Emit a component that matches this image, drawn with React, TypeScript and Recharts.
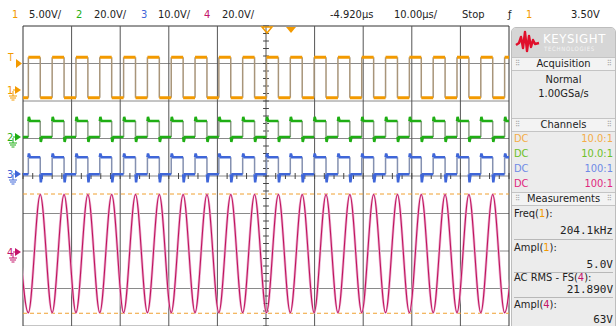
import React from 'react';
import { LineChart, Line, XAxis, YAxis, ReferenceLine } from 'recharts';

// scope screen: 10 div x 10 µs, 8 div vertical
const edgeTimes = [
  -1.35, 1.1, 3.55, 6.0, 8.45, 10.9, 13.35, 15.8, 18.25, 20.7, 23.15, 25.6, 28.05, 30.5,
  32.95, 35.4, 37.85, 40.3, 42.75, 45.2, 47.65, 50.1, 52.55, 55.0, 57.45, 59.9, 62.35,
  64.8, 67.25, 69.7, 72.15, 74.6, 77.05, 79.5, 81.95, 84.4, 86.85, 89.3, 91.75, 94.2,
  96.65, 99.1, 101.55,
];

const channelScales = [5, 20, 10, 20]; // V/div
const channelOffsets = [2.29, 1.04, 0.05, -2.07]; // div from centre

const ch1Levels = [-1.0, 4.4]; // low, high (V)
const ch2Levels = [0, 8.5];
const ch3Levels = [0, 4.5];
const ch4Levels = [-31.5, 31.5]; // trough, peak

const ch2Ring = [-2.6, 2.2];
const ch3Ring = [-2.2, 1.0];

const cursorLevels = [31.8, -31.8]; // ampl(4) cursors

const ORANGE = '#f39a00';
const GREEN = '#1fae14';
const BLUE = '#3f66d8';
const MAGENTA = '#c4146a';

const toDiv = (v: number, ch: number) => channelOffsets[ch] + v / channelScales[ch];

function squareSegments(ch: number, levels: number[], ring?: number[]) {
  const pts: { t: number; v: number | null }[] = [];
  for (let i = 0; i < edgeTimes.length - 1; i++) {
    const high = i % 2 === 1;
    const lv = high ? levels[1] : levels[0];
    const t0 = edgeTimes[i];
    const t1 = edgeTimes[i + 1];
    pts.push({ t: t0, v: toDiv(lv, ch) });
    if (ring) {
      pts.push({ t: t0 + 0.12, v: toDiv(lv + (high ? ring[1] : ring[0]), ch) });
      pts.push({ t: t0 + 0.35, v: toDiv(lv, ch) });
    }
    pts.push({ t: t1, v: toDiv(lv, ch) });
    pts.push({ t: t1, v: null });
  }
  return pts;
}

function squareEdges(ch: number, levels: number[]) {
  const pts: { t: number; v: number | null }[] = [];
  edgeTimes.forEach((t) => {
    pts.push({ t, v: toDiv(levels[0], ch) });
    pts.push({ t, v: toDiv(levels[1], ch) });
    pts.push({ t, v: null });
  });
  return pts;
}

// sine extrema: peak at falling edges, trough at rising edges
const sineData = edgeTimes.map((t, i) => ({
  t,
  v: toDiv(i % 2 === 0 ? ch4Levels[1] : ch4Levels[0], 3),
}));

const xGrid = [0, 10, 20, 30, 40, 50, 60, 70, 80, 90, 100];
const yGrid = [-4, -3, -2, -1, 0, 1, 2, 3, 4];
const minorY = Array.from({ length: 41 }, (_, i) => -4 + i * 0.2);
const minorX = Array.from({ length: 51 }, (_, i) => i * 2);

const narrow = '"Liberation Sans Narrow", "DejaVu Sans Condensed", "Arial Narrow", sans-serif';
const mono = '"DejaVu Sans Mono", "Liberation Mono", monospace';

function Header() {
  const items: [number, string, string][] = [
    [12, '1', ORANGE], [29, '5.00V/', '#222'],
    [76, '2', GREEN], [94, '20.0V/', '#222'],
    [141, '3', BLUE], [158, '10.0V/', '#222'],
    [204, '4', MAGENTA], [222, '20.0V/', '#222'],
    [330, '-4.920µs', '#222'], [394, '10.00µs/', '#222'],
    [462, 'Stop', '#222'], [508, 'ƒ', '#222'], [526, '1', ORANGE], [571, '3.50V', '#222'],
  ];
  return (
    <div style={{ position: 'absolute', left: 0, top: 0, width: 616, height: 26 }}>
      {items.map(([x, s, c], i) => (
        <span key={i} style={{ position: 'absolute', left: x, top: 9, fontSize: 11, lineHeight: '12px', color: c, fontFamily: narrow, whiteSpace: 'nowrap' }}>{s}</span>
      ))}
    </div>
  );
}

function Markers() {
  const gnd = (x: number, y: number, c: string) => (
    <g stroke={c} strokeWidth={1}>
      <line x1={x} y1={y} x2={x} y2={y + 5} />
      <line x1={x - 4} y1={y + 5} x2={x + 4} y2={y + 5} />
      <line x1={x - 3} y1={y + 7} x2={x + 3} y2={y + 7} />
      <line x1={x - 1.5} y1={y + 9} x2={x + 1.5} y2={y + 9} />
    </g>
  );
  const mk = (y: number, label: string, c: string) => (
    <g>
      <text x={7} y={y + 4} fontSize={11} fill={c} fontFamily={narrow}>{label}</text>
      <polygon points={`${15},${y - 4} ${21},${y} ${15},${y + 4}`} fill={c} />
      <line x1={13} y1={y} x2={15} y2={y} stroke={c} />
      {gnd(13, y + 1, c)}
    </g>
  );
  return (
    <svg width={616} height={326} style={{ position: 'absolute', left: 0, top: 0, pointerEvents: 'none' }}>
      <text x={8} y={61} fontSize={10} fill={ORANGE} fontFamily={narrow}>T</text>
      <polygon points="16,59 22,63.5 16,68" fill={ORANGE} />
      {mk(90, '1', ORANGE)}
      {mk(137, '2', GREEN)}
      {mk(174, '3', BLUE)}
      {mk(252, '4', MAGENTA)}
      <polygon points="262,27 272,27 267,33" fill="none" stroke={ORANGE} strokeWidth={1.5} />
      <polygon points="286,27 296,27 291,33" fill={ORANGE} />
    </svg>
  );
}

function Bar({ top, label }: { top: number; label: string }) {
  return (
    <div style={{ position: 'absolute', left: 0, top, width: 103, height: 12, background: '#f3f3f3', borderTop: '1px solid #c4c4c4', borderBottom: '1px solid #c4c4c4', fontSize: 11, lineHeight: '12px', textAlign: 'center', color: '#222', fontFamily: narrow }}>
      <span style={{ position: 'absolute', left: 3, color: '#aaa', fontSize: 8 }}>⠿</span>
      {label}
      <span style={{ position: 'absolute', right: 3, color: '#aaa', fontSize: 8 }}>⠿</span>
    </div>
  );
}

function Panel() {
  const txt = (top: number, s: React.ReactNode, align: 'left' | 'right' | 'center', font = narrow, color = '#222') => (
    <div style={{ position: 'absolute', left: 2, right: 2, top, fontSize: 11, lineHeight: '12px', textAlign: align, color, fontFamily: font, whiteSpace: 'nowrap' }}>{s}</div>
  );
  const chRow = (top: number, ratio: string, c: string) => (
    <div style={{ position: 'absolute', left: 2, right: 2, top, fontSize: 11, lineHeight: '12px', color: c, fontFamily: narrow }}>
      <span>DC</span>
      <span style={{ position: 'absolute', right: 0 }}>{ratio}</span>
    </div>
  );
  const sep = (top: number) => (
    <div style={{ position: 'absolute', left: 2, right: 2, top, height: 1, background: '#b8b8b8' }} />
  );
  return (
    <div style={{ position: 'absolute', left: 511, top: 27, width: 103, height: 310, background: '#ececec', border: '1px solid #bdbdbd', borderRadius: '5px 5px 0 0', overflow: 'hidden' }}>
      <div style={{ position: 'absolute', left: 0, top: 0, width: 103, height: 29, background: '#d6d6d6' }}>
        <svg width={103} height={29} style={{ position: 'absolute', left: 0, top: 0 }}>
          <polyline points="4,17 7,15 9,9 11,20 13,4 15,23 17,8 19,19 21,12 23,16 27,15" fill="none" stroke="#e0102c" strokeWidth={2.4} strokeLinejoin="round" />
          <text x={31} y={15} fontSize={13} fill="#fff" fontFamily={narrow} letterSpacing={0.6}>KEYSIGHT</text>
          <text x={32} y={23} fontSize={6} fill="#f4f4f4" fontFamily={narrow} letterSpacing={0.7}>TECHNOLOGIES</text>
        </svg>
      </div>
      <Bar top={29} label="Acquisition" />
      {txt(46, 'Normal', 'center')}
      {txt(60, '1.00GSa/s', 'center')}
      <Bar top={90} label="Channels" />
      {chRow(105, '10.0:1', '#f4ad48')}
      {chRow(120, '10.0:1', '#6cc028')}
      {chRow(135, '100:1', '#6f8ae6')}
      {chRow(150, '100:1', '#e0287e')}
      <Bar top={164} label="Measurements" />
      {txt(180, <>Freq(<span style={{ color: ORANGE }}>1</span>):</>, 'left')}
      {txt(197, '204.1kHz', 'right', mono)}
      {sep(211)}
      {txt(214, <>Ampl(<span style={{ color: ORANGE }}>1</span>):</>, 'left')}
      {txt(231, '5.0V', 'right', mono)}
      {sep(244)}
      {txt(244, <>AC RMS - FS(<span style={{ color: MAGENTA }}>4</span>):</>, 'left')}
      {txt(256, '21.890V', 'right', mono)}
      {sep(269)}
      {txt(271, <>Ampl(<span style={{ color: MAGENTA }}>4</span>):</>, 'left')}
      {txt(286, '63V', 'right', mono)}
    </div>
  );
}

export default function App() {
  return (
    <div style={{ position: 'fixed', left: 0, top: 0, width: 616, height: 326, background: '#fff', overflow: 'hidden', fontFamily: narrow }}>
      <LineChart width={616} height={326} margin={{ top: 26, right: 107, bottom: 0, left: 23 }}>
        <XAxis type="number" dataKey="t" domain={[0, 100]} allowDataOverflow hide />
        <YAxis type="number" dataKey="v" domain={[-4, 4]} allowDataOverflow hide />
        {yGrid.map((y) => (
          <ReferenceLine key={'h' + y} y={y} stroke={y === 4 ? '#333' : '#8a8a8a'} strokeWidth={1} />
        ))}
        {xGrid.map((x) => (
          <ReferenceLine key={'v' + x} x={x} stroke={x === 0 || x === 100 ? '#333' : '#555'} strokeWidth={1} />
        ))}
        {minorY.map((y) => (
          <ReferenceLine key={'my' + y} segment={[{ x: 49.4, y }, { x: 50.6, y }]} stroke="#444" />
        ))}
        {minorX.map((x) => (
          <ReferenceLine key={'mx' + x} segment={[{ x, y: -0.08 }, { x, y: 0.08 }]} stroke="#444" />
        ))}
        {cursorLevels.map((v) => (
          <ReferenceLine key={'c' + v} y={toDiv(v, 3)} stroke="#f0a030" strokeDasharray="4 3" strokeWidth={1} />
        ))}
        <Line data={squareEdges(0, ch1Levels)} dataKey="v" stroke="#a8957a" strokeWidth={1.5} dot={false} isAnimationActive={false} connectNulls={false} />
        <Line data={squareSegments(0, ch1Levels)} dataKey="v" stroke={ORANGE} strokeWidth={3} dot={false} isAnimationActive={false} connectNulls={false} />
        <Line data={squareEdges(1, ch2Levels)} dataKey="v" stroke="#8e9a88" strokeWidth={1.5} dot={false} isAnimationActive={false} connectNulls={false} />
        <Line data={squareSegments(1, ch2Levels, ch2Ring)} dataKey="v" stroke={GREEN} strokeWidth={2.5} dot={false} isAnimationActive={false} connectNulls={false} />
        <Line data={squareEdges(2, ch3Levels)} dataKey="v" stroke="#8591b0" strokeWidth={1.5} dot={false} isAnimationActive={false} connectNulls={false} />
        <Line data={squareSegments(2, ch3Levels, ch3Ring)} dataKey="v" stroke={BLUE} strokeWidth={2.5} dot={false} isAnimationActive={false} connectNulls={false} />
        <Line data={sineData} dataKey="v" type="monotone" stroke="#edb3d3" strokeWidth={2.6} dot={false} isAnimationActive={false} />
        <Line data={sineData} dataKey="v" type="monotone" stroke="#c0145e" strokeWidth={1.1} dot={false} isAnimationActive={false} />
      </LineChart>
      <Markers />
      <Header />
      <Panel />
    </div>
  );
}
